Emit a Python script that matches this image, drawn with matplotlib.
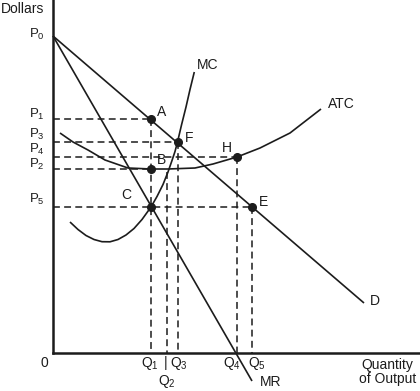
import matplotlib
matplotlib.use("Agg")
import matplotlib.pyplot as plt

plt.rcParams["font.family"] = ["Liberation Sans", "DejaVu Sans"]
plt.rcParams["mathtext.fontset"] = "custom"
plt.rcParams["mathtext.rm"] = "Liberation Sans"
plt.rcParams["mathtext.it"] = "Liberation Sans"

# chart values, in plot units (origin at the axes corner)
price_names = ["P$_0$", "P$_1$", "P$_3$", "P$_4$", "P$_2$", "P$_5$"]
price_label_y = [315.3, 235.3, 214.7, 199.7, 185.3, 149.7]

qty_q1, qty_q2, qty_q3, qty_q4, qty_q5 = 97.7, 113.7, 124.5, 183.7, 199.3

demand_x = [0, 311]
demand_y = [317, 50]
mr_x = [0, 199]
mr_y = [317, -28]

mc_x = [17, 25, 33, 41, 49, 57, 65, 73, 81, 89, 98, 104, 110, 115, 119, 122, 124.5, 128.5, 133, 137, 141.3]
mc_y = [131, 123.5, 117.5, 113.5, 111.3, 111.2, 113.5, 118, 124.5, 133.5, 146, 156.5, 168.5, 181, 192.5, 201.5, 211, 228, 246, 263.5, 281]

atc_x = [7, 20, 35, 52, 75, 98, 115, 142, 160, 184, 207, 237, 268]
atc_y = [220, 211, 203, 193, 185, 184, 184, 185, 189, 196, 205, 220, 244]

dot_names = ["A", "F", "B", "C", "H", "E"]
dot_x = [qty_q1, qty_q3, qty_q1, qty_q1, qty_q4, qty_q5]
dot_y = [233.7, 211, 183.7, 146.3, 196.3, 146.3]

ink = "#1c1c1c"
fig = plt.figure(figsize=(4.2, 3.91), dpi=100)
ax = fig.add_axes([53 / 420, 38 / 391, 367 / 420, 353 / 391])
ax.set_xlim(0, 367)
ax.set_ylim(0, 353)
for side in ("top", "right"):
    ax.spines[side].set_visible(False)
for side in ("left", "bottom"):
    ax.spines[side].set_linewidth(1.8)
    ax.spines[side].set_color(ink)
ax.set_xticks([])
ax.set_yticks([])

dash = dict(color=ink, lw=1.1, dashes=(4.5, 2.8), clip_on=False)

# horizontal guides from the price axis
ax.plot([0, qty_q1], [233.7, 233.7], **dash)
ax.plot([0, qty_q3], [211, 211], **dash)
ax.plot([0, qty_q4], [196.3, 196.3], **dash)
ax.plot([0, qty_q1], [183.7, 183.7], **dash)
ax.plot([0, qty_q5], [146.3, 146.3], **dash)
# vertical guides down to the quantity axis
ax.plot([qty_q1, qty_q1], [233.7, 0], **dash)
ax.plot([qty_q2, qty_q2], [181, 0], **dash)
ax.plot([qty_q3, qty_q3], [211, 0], **dash)
ax.plot([qty_q4, qty_q4], [196.3, 0], **dash)
ax.plot([qty_q5, qty_q5], [146.3, 0], **dash)

curve = dict(color=ink, lw=1.2, clip_on=False, solid_capstyle="butt", solid_joinstyle="round")
ax.plot(demand_x, demand_y, **curve)
ax.plot(mr_x, mr_y, **curve)
ax.plot(mc_x, mc_y, **curve)
ax.plot(atc_x, atc_y, **curve)

ax.plot(dot_x, dot_y, "o", color=ink, ms=5.5, clip_on=False, zorder=5)

txt = dict(fontsize=10, color=ink, clip_on=False)
for name, y in zip(price_names, price_label_y):
    ax.text(-8, y, name, ha="right", va="baseline", fontsize=9.5, color=ink, clip_on=False)

ax.text(-52, 344, "Dollars", ha="left", va="center", **txt)
ax.text(-9, -10, "0", ha="center", va="center", **txt)

label_pos = {"A": (108.7, 240.7), "F": (136, 214.7), "B": (108, 193),
             "C": (73.7, 158), "H": (174.3, 204.7), "E": (210.3, 151.3)}
for name in dot_names:
    lx, ly = label_pos[name]
    ax.text(lx, ly, name, ha="center", va="center", **txt)

ax.text(155, 288, "MC", ha="center", va="center", **txt)
ax.text(288, 248.7, "ATC", ha="center", va="center", **txt)
ax.text(322, 52.3, "D", ha="center", va="center", **txt)
ax.text(218, -28.7, "MR", ha="center", va="center", **txt)

ax.text(qty_q1 - 0.7, -10, "Q$_1$", ha="center", va="center", **txt)
ax.text(qty_q2 - 0.7, -10, "|", ha="center", va="center", **txt)
ax.text(qty_q3 + 1.5, -10, "Q$_3$", ha="center", va="center", **txt)
ax.text(qty_q2, -28.7, "Q$_2$", ha="center", va="center", **txt)
ax.text(qty_q4 - 5, -10, "Q$_4$", ha="center", va="center", **txt)
ax.text(qty_q5 + 4.7, -10, "Q$_5$", ha="center", va="center", **txt)

ax.text(334.7, -19, "Quantity\nof Output", ha="center", va="center",
        multialignment="center", linespacing=1.0, **txt)

fig.savefig("out.png", dpi=100)
